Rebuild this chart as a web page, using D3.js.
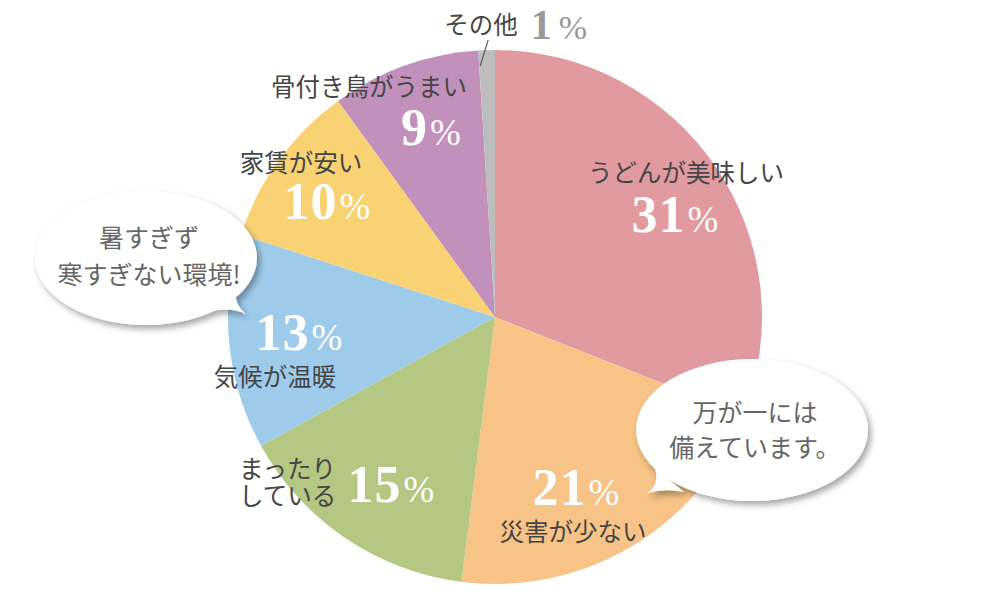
<!DOCTYPE html>
<html><head><meta charset="utf-8">
<script src="https://cdn.jsdelivr.net/npm/d3@7"></script>
<style>
html,body{margin:0;padding:0;background:#fff;}
svg{display:block;}
</style></head>
<body>
<svg id="c" width="1000" height="590"></svg>
<script>
// ---- data ----
const categories = ["うどんが美味しい","災害が少ない","まったり\nしている","気候が温暖","家賃が安い","骨付き鳥がうまい","その他"];
const values = [31, 21, 15, 13, 10, 9, 1];
const colors = ["#e29aa1","#f7c386","#b5c883","#9fcbeb","#f8d273","#c191bb","#bdbdbd"];
const bubbleLeft = ["暑すぎず","寒すぎない環境!"];
const bubbleRight = ["万が一には","備えています。"];

// ---- layout ----
const W = 1000, H = 590;
const cx = 495, cy = 317, R = 267;
const layout = [
  {lx:686, ly:182, nx:675, ny:232, anchor:"middle"},
  {lx:573, ly:541, nx:576, ny:505, anchor:"middle"},
  {lx:239, ly:491, nx:391, ny:502, anchor:"start"},
  {lx:275, ly:386, nx:299, ny:350, anchor:"middle"},
  {lx:301, ly:172, nx:327, ny:219, anchor:"middle"},
  {lx:369, ly:96,  nx:431, ny:145, anchor:"middle"},
  {lx:481, ly:34,  nx:559, ny:39,  anchor:"middle"}
];

const svg = d3.select("#c");
const defs = svg.append("defs");
const f = defs.append("filter").attr("id","sh").attr("x","-20%").attr("y","-20%").attr("width","150%").attr("height","150%");
f.append("feDropShadow").attr("dx",3).attr("dy",4).attr("stdDeviation",3)
  .attr("flood-color","#000").attr("flood-opacity",0.35);

const pie = d3.pie().value(d => d).sort(null);
const arcs = pie(values);
const arc = d3.arc().innerRadius(0).outerRadius(R);

const g = svg.append("g").attr("transform",`translate(${cx},${cy})`);
g.selectAll("path.slice").data(arcs).enter().append("path")
  .attr("class","slice")
  .attr("d", arc)
  .attr("fill", (d,i) => colors[i]);

// leader line for その他
const oth = arcs[6];
const midA = (oth.startAngle + oth.endAngle)/2;
const p1 = [Math.sin(midA)*(R-16), -Math.cos(midA)*(R-16)];
g.append("line")
  .attr("x1", p1[0]-7).attr("y1", p1[1])
  .attr("x2", p1[0]+1).attr("y2", p1[1]-26)
  .attr("stroke","#555").attr("stroke-width",1.2);

const labelFont = "'Noto Sans CJK JP','Noto Sans',sans-serif";
const numFont = "'Liberation Serif','DejaVu Serif',serif";

// category labels
categories.forEach((c,i) => {
  const L = layout[i];
  const lines = c.split("\n");
  lines.forEach((ln,j) => {
    const yy = lines.length > 1 ? L.ly - 13 + j*27 : L.ly;
    svg.append("text")
      .attr("x", L.lx).attr("y", yy)
      .attr("text-anchor", L.anchor)
      .attr("font-family", labelFont)
      .attr("font-size", 24.5)
      .attr("fill", "#454545")
      .text(ln);
  });
});

// numbers
values.forEach((v,i) => {
  const L = layout[i];
  const isOther = i === 6;
  const t = svg.append("text")
    .attr("x", L.nx).attr("y", L.ny)
    .attr("text-anchor","middle")
    .attr("font-family", numFont)
    .attr("fill", isOther ? "#9a9a9a" : "#ffffff");
  t.append("tspan").attr("font-weight","bold").attr("font-size", isOther ? 42 : 52)
    .attr("letter-spacing", 1).text(v);
  t.append("tspan").attr("font-size", isOther ? 34 : 37).attr("dx", isOther ? 6 : 2).text("%");
});

// speech bubbles
function bubble(ex, ey, rx, ry, tail, lines, ty) {
  const bg = svg.append("g").attr("filter","url(#sh)");
  bg.append("ellipse").attr("cx",ex).attr("cy",ey).attr("rx",rx).attr("ry",ry).attr("fill","#fff");
  bg.append("path").attr("d", tail).attr("fill","#fff");
  lines.forEach((ln,j) => {
    svg.append("text")
      .attr("text-anchor","middle")
      .attr("font-family", labelFont)
      .attr("font-size", 25)
      .attr("fill","#666")
      .attr("x", ex+3).attr("y", ty[j]).text(ln);
  });
}
bubble(146, 258, 111, 67,
  "M205,312 Q230,306 246,314 Q234,304 236,292 Z",
  bubbleLeft, [247, 284]);
bubble(752, 430, 116, 71,
  "M655,468 Q660,485 647,493 Q665,488 684,492 Z",
  bubbleRight, [422, 457]);
</script>
</body></html>
